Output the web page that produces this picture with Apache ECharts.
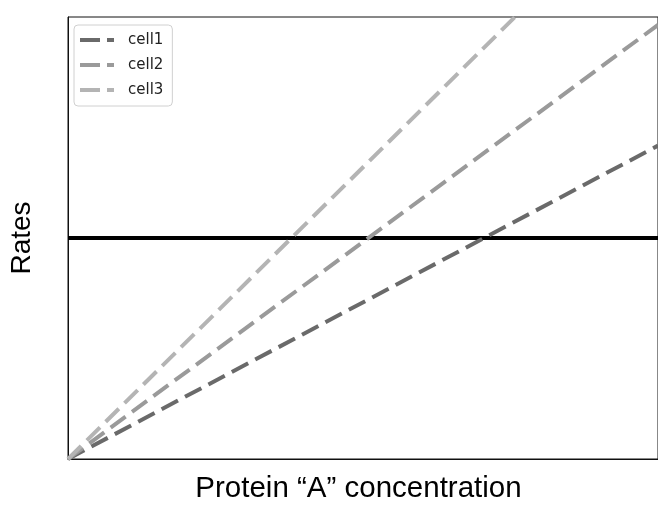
<!DOCTYPE html>
<html><head><meta charset="utf-8">
<script src="https://cdn.jsdelivr.net/npm/echarts@6/dist/echarts.min.js"></script>
<style>html,body{margin:0;padding:0;background:#fff;overflow:hidden}#c{width:658px;height:509px}</style>
</head><body><div id="c"></div>
<script>
// x range endpoints (arbitrary concentration units)
const xRange = [0, 10];
// series: rate lines from origin, value at x = 10
const seriesNames = ['cell1', 'cell2', 'cell3'];
const cell1 = [0, 7.09];
const cell2 = [0, 9.82];
const cell3 = [0, 13.2];
const threshold = [5, 5];
const seriesColors = ['#6a6a6a', '#9a9a9a', '#b4b4b4'];

const vals = [cell1, cell2, cell3];
const chart = echarts.init(document.getElementById('c'), null, {renderer: 'canvas'});
const dashSeries = seriesNames.map((n, i) => ({
  name: n, type: 'line', symbol: 'none', clip: true, z: 3,
  data: xRange.map((x, j) => [x, vals[i][j]]),
  lineStyle: {color: seriesColors[i], width: 4, type: [18.5, 8]},
  itemStyle: {color: seriesColors[i]}
}));
chart.setOption({
  animation: false,
  grid: {left: 65, top: 17, right: -2, bottom: 43, show: true, borderColor: '#111', borderWidth: 1, backgroundColor: 'transparent'},
  xAxis: {type: 'value', min: 0, max: 10, splitLine: {show: false}, axisTick: {show: false}, axisLabel: {show: false},
    axisLine: {show: true, lineStyle: {color: '#111', width: 1}},
    name: 'Protein \u201CA\u201D concentration', nameLocation: 'middle', nameGap: 30,
    nameTextStyle: {fontFamily: 'Liberation Sans', fontSize: 29.5, color: '#000', verticalAlign: 'middle', padding: [0, 9, 0, 0]}},
  yAxis: {type: 'value', min: 0, max: 10, splitLine: {show: false}, axisTick: {show: false}, axisLabel: {show: false},
    axisLine: {show: true, lineStyle: {color: '#111', width: 1}},
    name: 'Rates', nameLocation: 'middle', nameGap: 32,
    nameTextStyle: {fontFamily: 'Liberation Sans', fontSize: 28, color: '#000'}},
  legend: {
    data: seriesNames, orient: 'vertical', left: 74, top: 25, itemGap: 7,
    icon: 'path://M0,0h20v4h-20z M27,0h7v4h-7z',
    itemWidth: 34, itemHeight: 4, padding: [6, 9, 7, 6],
    backgroundColor: '#fff', borderColor: '#d0d0d0', borderWidth: 1, borderRadius: 4,
    textStyle: {fontFamily: 'DejaVu Sans', fontSize: 15, lineHeight: 18, color: '#222', padding: [0, 0, 0, 9]}
  },
  series: [{
    name: 'threshold', type: 'line', symbol: 'none', z: 2,
    data: xRange.map((x, j) => [x, threshold[j]]),
    lineStyle: {color: '#000', width: 4}
  }].concat(dashSeries)
});
</script></body></html>
